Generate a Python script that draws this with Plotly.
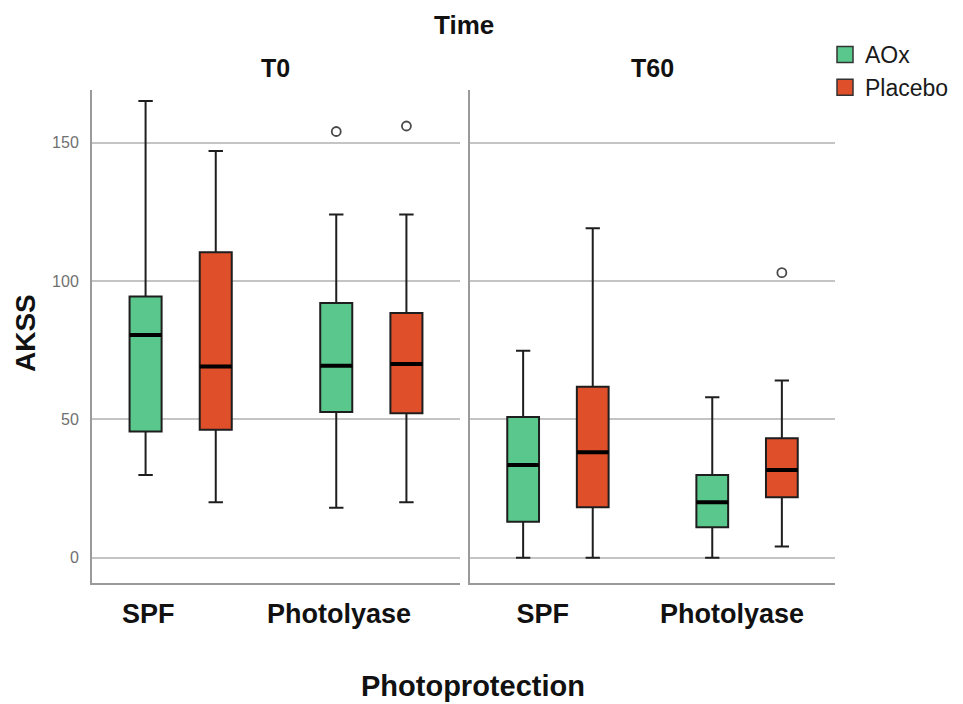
import plotly.graph_objects as go

# ---------------- data ----------------
categories = ["SPF", "Photolyase"]
times = ["T0", "T60"]
groups = ["AOx", "Placebo"]

# T0
aox_t0_lower = [29.9, 18.0]
aox_t0_q1 = [45.6, 52.6]
aox_t0_median = [80.5, 69.4]
aox_t0_q3 = [94.4, 92.0]
aox_t0_upper = [165.0, 124.0]
aox_t0_outliers = [[], [154.0]]

placebo_t0_lower = [20.0, 20.0]
placebo_t0_q1 = [46.2, 52.2]
placebo_t0_median = [69.1, 70.0]
placebo_t0_q3 = [110.4, 88.4]
placebo_t0_upper = [147.0, 124.0]
placebo_t0_outliers = [[], [156.0]]

# T60
aox_t60_lower = [0.0, 0.0]
aox_t60_q1 = [13.0, 11.0]
aox_t60_median = [33.5, 20.0]
aox_t60_q3 = [50.8, 29.9]
aox_t60_upper = [74.8, 58.0]
aox_t60_outliers = [[], []]

placebo_t60_lower = [0.0, 4.0]
placebo_t60_q1 = [18.2, 21.8]
placebo_t60_median = [38.1, 31.7]
placebo_t60_q3 = [61.8, 43.2]
placebo_t60_upper = [119.0, 64.0]
placebo_t60_outliers = [[], [103.0]]

y_ticks = [0, 50, 100, 150]

# ---------------- styles ----------------
colors = {"AOx": "#5AC88C", "Placebo": "#DE4F2A"}
offsets = {"AOx": -0.184, "Placebo": 0.184}
box_w = 0.168
# page has an 8px body margin; figure sized to fit the window
PAD = 8
W, H = 963 - PAD, 704 - PAD
FONT = "Liberation Sans, Arial, sans-serif"


def fx(px):
    return (px - PAD) / W


def fy(py):
    return 1 - (py - PAD) / H


stats = {
    ("T0", "AOx"): (aox_t0_lower, aox_t0_q1, aox_t0_median, aox_t0_q3, aox_t0_upper, aox_t0_outliers),
    ("T0", "Placebo"): (placebo_t0_lower, placebo_t0_q1, placebo_t0_median, placebo_t0_q3, placebo_t0_upper, placebo_t0_outliers),
    ("T60", "AOx"): (aox_t60_lower, aox_t60_q1, aox_t60_median, aox_t60_q3, aox_t60_upper, aox_t60_outliers),
    ("T60", "Placebo"): (placebo_t60_lower, placebo_t60_q1, placebo_t60_median, placebo_t60_q3, placebo_t60_upper, placebo_t60_outliers),
}

fig = go.Figure()
axes = {"T0": ("x", "y"), "T60": ("x2", "y2")}

for t in times:
    xa, ya = axes[t]
    for g in groups:
        lo, q1, med, q3, up, outs = stats[(t, g)]
        pos = [i + offsets[g] for i in range(len(categories))]
        fig.add_trace(go.Box(
            x=pos, lowerfence=lo, q1=q1, median=med, q3=q3, upperfence=up,
            width=box_w, whiskerwidth=0.45,
            fillcolor=colors[g], line=dict(color="#1e1e1e", width=2),
            boxpoints=False, showlegend=False, xaxis=xa, yaxis=ya,
            hoverinfo="skip",
        ))
        # thick median
        mx, my = [], []
        for p, m in zip(pos, med):
            mx += [p - box_w / 2, p + box_w / 2, None]
            my += [m, m, None]
        fig.add_trace(go.Scatter(x=mx, y=my, mode="lines",
                                 line=dict(color="#000000", width=4),
                                 showlegend=False, xaxis=xa, yaxis=ya, hoverinfo="skip"))
        # outliers
        ox, oy = [], []
        for p, o in zip(pos, outs):
            for v in o:
                ox.append(p)
                oy.append(v)
        if ox:
            fig.add_trace(go.Scatter(x=ox, y=oy, mode="markers",
                                     marker=dict(symbol="circle-open", size=9,
                                                 color="#4a4a4a", line=dict(width=1.8)),
                                     showlegend=False, xaxis=xa, yaxis=ya, hoverinfo="skip"))

# legend entries
for g in groups:
    fig.add_trace(go.Scatter(x=[None], y=[None], mode="markers", name=g,
                             marker=dict(symbol="square", size=16, color=colors[g],
                                         line=dict(color="#333333", width=1.5)),
                             xaxis="x", yaxis="y"))

# ---------------- layout ----------------
ytop, ybot = 90, 583
ydom = [fy(ybot), fy(ytop)]
yrange = [-9.15, 169]
xrange = [-0.465, 1.465]
grid_c = "#C4C4C4"
line_c = "#9A9A9A"
xtickvals0 = [i - 0.17 for i in range(len(categories))]
xtickvals1 = [i - 0.08 for i in range(len(categories))]

xcommon = dict(range=xrange, ticktext=categories,
               showgrid=False, zeroline=False, showline=True, linecolor=line_c, linewidth=2,
               ticks="", tickfont=dict(family=FONT, size=27, color="#111111", weight="bold"),
               ticklabelstandoff=6, fixedrange=True)
ycommon = dict(range=yrange, tickvals=y_ticks, showgrid=True, gridcolor=grid_c, gridwidth=1.5,
               zeroline=False, showline=True, linecolor=line_c, linewidth=2, ticks="",
               domain=ydom, fixedrange=True)

title_font = dict(family=FONT, color="#111111", weight="bold")

fig.update_layout(
    width=W, height=H,
    margin=dict(l=0, r=0, t=0, b=0),
    paper_bgcolor="white", plot_bgcolor="white",
    font=dict(family=FONT),
    xaxis=dict(domain=[fx(92), fx(460)], anchor="y", tickvals=xtickvals0, **xcommon),
    xaxis2=dict(domain=[fx(470), fx(835)], anchor="y2", tickvals=xtickvals1, **xcommon),
    yaxis=dict(anchor="x", ticklabelstandoff=8,
               tickfont=dict(family=FONT, size=16, color="#707070"), **ycommon),
    yaxis2=dict(anchor="x2", showticklabels=False, **ycommon),
    legend=dict(x=fx(825), y=fy(33), xanchor="left", yanchor="top",
                font=dict(family=FONT, size=23, color="#1a1a1a"),
                bgcolor="rgba(0,0,0,0)", itemwidth=30),
    showlegend=True,
    annotations=[
        dict(text="Time", x=fx(464), y=fy(25), xref="paper", yref="paper",
             xanchor="center", yanchor="middle", showarrow=False,
             font=dict(size=26, **title_font)),
        dict(text="T0", x=fx(275), y=fy(68), xref="paper", yref="paper",
             xanchor="center", yanchor="middle", showarrow=False,
             font=dict(size=25, **title_font)),
        dict(text="T60", x=fx(652), y=fy(68), xref="paper", yref="paper",
             xanchor="center", yanchor="middle", showarrow=False,
             font=dict(size=25, **title_font)),
        dict(text="AKSS", x=fx(25), y=fy(333), xref="paper", yref="paper", textangle=-90,
             xanchor="center", yanchor="middle", showarrow=False,
             font=dict(size=28, **title_font)),
        dict(text="Photoprotection", x=fx(473), y=fy(686), xref="paper", yref="paper",
             xanchor="center", yanchor="middle", showarrow=False,
             font=dict(size=29, **title_font)),
    ],
)

fig.write_html("out.html")
